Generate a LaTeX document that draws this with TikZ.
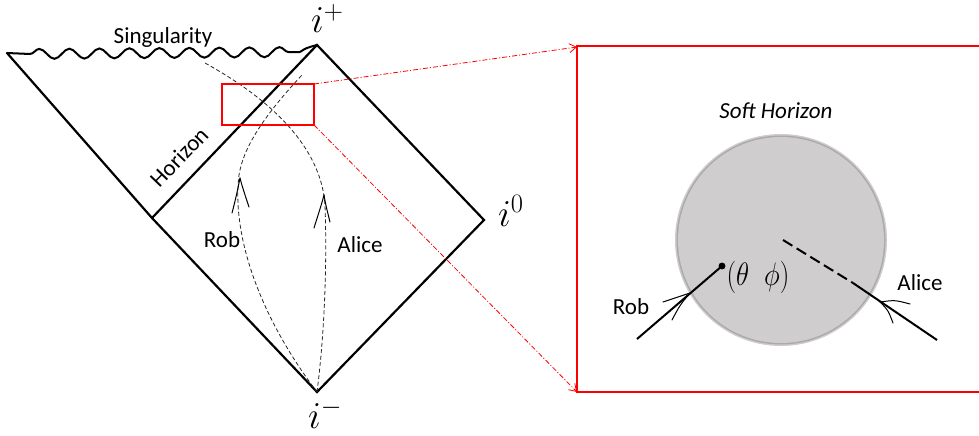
\RequirePackage{fix-cm}
\documentclass[tikz,border=0pt]{standalone}
\usepackage{fontspec}
\setmainfont{Carlito}
\usetikzlibrary{decorations.pathmorphing,arrows.meta}
\definecolor{discgray}{HTML}{D0CDCE}
\definecolor{discedge}{HTML}{ABA9AA}
\tikzset{
  penrose/.style={line width=2.2pt, line join=miter, line cap=round},
  traj/.style={dash pattern=on 4pt off 2.5pt, line width=0.8pt, black!85},
  zoomarrow/.style={red, line width=0.8pt, dash pattern=on 5pt off 2pt on 1pt off 2pt, -{Straight Barb[length=7pt,width=9pt]}},
  zoombox/.style={red, line width=1.2pt},
  bigbox/.style={red, line width=2pt},
  lbl/.style={font=\fontsize{23}{25}\selectfont, inner sep=0pt},
  mlbl/.style={font=\fontsize{38}{40}\selectfont, inner sep=0pt},
  ahead/.style={line width=1pt, line cap=round},
  insetline/.style={line width=2pt, line cap=butt},
}
\begin{document}
\begin{tikzpicture}[x=1pt,y=-1pt]
\useasboundingbox (0,0) rectangle (979,436);

% Penrose diagram corners
\coordinate (TL) at (7,53);
\coordinate (A) at (317,45);
\coordinate (R) at (484,220);
\coordinate (B) at (317,392);
\coordinate (H) at (152,218);

\draw[penrose] (TL) -- (H) -- (B) -- (R) -- (A) -- (H);
% singularity
\coordinate (S1) at (30,54);
\coordinate (S2) at (300,52);
\draw[line width=2pt] (TL) -- (S1);
\draw[line width=2pt, decorate, decoration={snake, amplitude=5pt, segment length=30pt}] (S1) -- (S2);
\draw[line width=2pt] (S2) .. controls (306,48) .. (A);

% trajectories
\draw[traj] (B) .. controls (255,310) and (232,230) .. (239,175) .. controls (243,150) and (260,120) .. (302,75);
\draw[traj] (B) .. controls (325,330) and (327,260) .. (325,205) .. controls (322,160) and (290,110) .. (205,63);

% trajectory arrowheads
\draw[ahead] (232,213) .. controls (236,198) and (238,188) .. (240,178);
\draw[ahead] (249,207) .. controls (245,195) and (242,186) .. (240,178);
\draw[ahead] (314,228) .. controls (319,212) and (322,203) .. (324,195);
\draw[ahead] (330,222) .. controls (327,210) and (325,202) .. (324,195);

% labels
\node[lbl, anchor=base] (sing) at (163,44) {Singularity};
\node[lbl, rotate=46] (hor) at (179,157) {Horizon};
\node[lbl] (rob) at (222,240) {Rob};
\node[lbl] (alice) at (360,245) {Alice};
\node[mlbl, anchor=base west] (ip) at (311,33) {$i^+$};
\node[mlbl, anchor=base west] (io) at (498,226) {$i^0$};
\node[mlbl, anchor=base west] (im) at (308,428) {$i^-$};

% zoom boxes
\draw[zoombox] (222,84) rectangle (314,125);
\coordinate (zr1) at (314,84);
\coordinate (zr2) at (314,125);
\coordinate (bb1) at (577,47);
\coordinate (bb2) at (577,392);
\draw[bigbox] (985,46) -- (577,46) -- (577,392) -- (985,392);
\draw[zoomarrow] (zr1) -- (bb1);
\draw[zoomarrow] (zr2) -- (bb2);

% inset
\node[lbl, font=\fontsize{23}{25}\selectfont\itshape, anchor=base] (soft) at (776,118) {Soft Horizon};
\fill[discedge!60] (781,240) circle (106);
\fill[discedge] (781,240) circle (104.5);
\fill[discgray] (781,240) circle (103);

\coordinate (rs) at (637,339);
\coordinate (re) at (722,266);
\draw[insetline] (rs) -- (re);
\draw[line width=1.2pt, fill=black] (re) circle (2.8);
\draw[ahead] (663,302) .. controls (675,298) .. (690,293);
\draw[ahead] (672,320) .. controls (680,305) .. (690,293);

\coordinate (as) at (783,240);
\coordinate (am) at (853,283);
\coordinate (ae) at (937,340);
\draw[insetline, dash pattern=on 11pt off 5pt] (as) -- (am);
\draw[insetline] (am) -- (ae);
\draw[ahead] (910,304) .. controls (895,300) .. (880,302);
\draw[ahead] (893,323) .. controls (888,310) .. (880,302);

\node[inner sep=0pt, font=\fontsize{27}{29}\selectfont] (tp) at (758,277) {\scalebox{1}[1.2]{$(\theta\;\;\phi)$}};
\node[lbl] (rob2) at (631,307) {Rob};
\node[lbl] (alice2) at (920,283) {Alice};
\end{tikzpicture}
\end{document}
